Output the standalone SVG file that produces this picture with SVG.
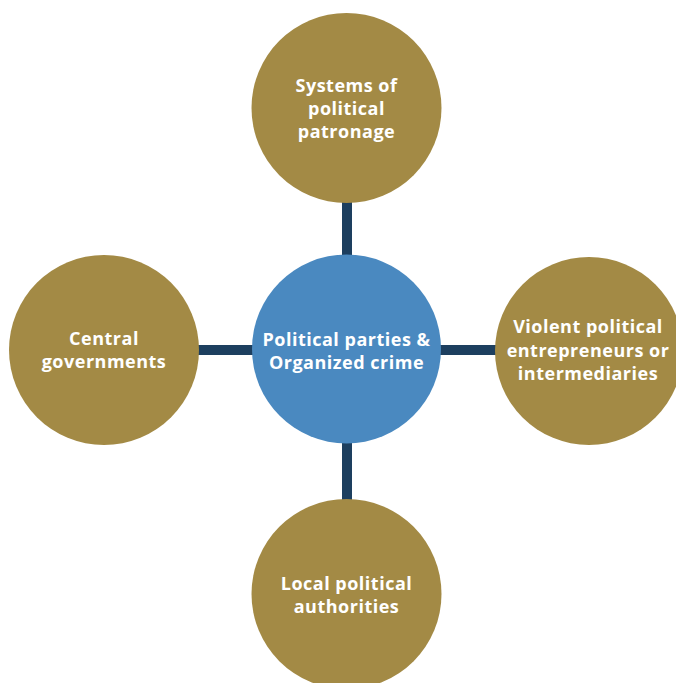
<svg xmlns="http://www.w3.org/2000/svg" width="676" height="683" viewBox="0 0 676 683">
<style>
.gold{fill:#A38A45}
.blue{fill:#4A89C0}
.conn{stroke:#1D3F5F;stroke-width:10;fill:none}
text{font-family:"Open Sans","Noto Sans",sans-serif;font-weight:700;font-size:18px;letter-spacing:0.5px;fill:#ffffff;text-anchor:middle}
</style>
<rect width="676" height="683" fill="#ffffff"/>
<g id="connectors">
<line class="conn" x1="347" y1="190" x2="347" y2="265"/>
<line class="conn" x1="347" y1="435" x2="347" y2="510"/>
<line class="conn" x1="190" y1="350" x2="265" y2="350"/>
<line class="conn" x1="430" y1="350" x2="505" y2="350"/>
</g>
<g id="top">
<circle class="gold" cx="346.5" cy="108" r="95"/>
<text x="346.5" y="92">Systems of</text>
<text x="346.5" y="115">political</text>
<text x="346.5" y="138">patronage</text>
</g>
<g id="center">
<circle class="blue" cx="346.5" cy="349" r="94.5"/>
<text x="346.5" y="346">Political parties &amp;</text>
<text x="346.5" y="369">Organized crime</text>
</g>
<g id="left">
<circle class="gold" cx="104" cy="350" r="95"/>
<text x="104" y="345">Central</text>
<text x="104" y="368">governments</text>
</g>
<g id="right">
<circle class="gold" cx="589" cy="351" r="94"/>
<text x="588" y="333">Violent political</text>
<text x="588" y="357">entrepreneurs or</text>
<text x="588" y="380">intermediaries</text>
</g>
<g id="bottom">
<circle class="gold" cx="346.5" cy="594" r="95"/>
<text x="346.5" y="590">Local political</text>
<text x="346.5" y="613">authorities</text>
</g>
</svg>
